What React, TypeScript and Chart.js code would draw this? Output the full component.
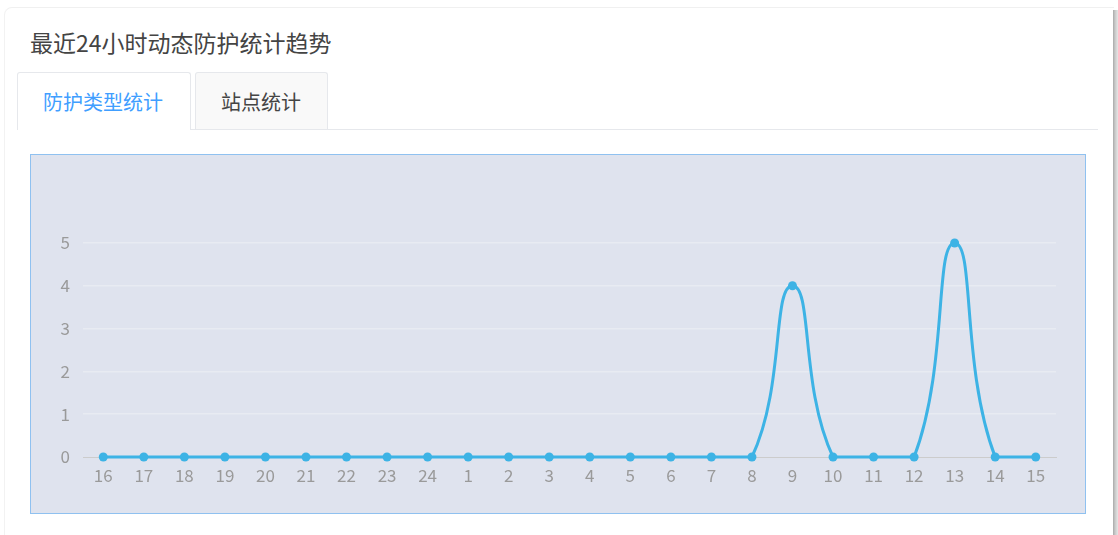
import React, { useEffect, useRef } from "react";
import { Chart, registerables } from "chart.js";

Chart.register(...registerables);

// Hours of the last 24h window
const hours = [
  "16", "17", "18", "19", "20", "21", "22", "23", "24",
  "1", "2", "3", "4", "5", "6", "7", "8", "9", "10", "11", "12", "13", "14", "15",
];
// Protection events per hour
const protectCounts = [0, 0, 0, 0, 0, 0, 0, 0, 0, 0, 0, 0, 0, 0, 0, 0, 0, 4, 0, 0, 0, 5, 0, 0];
const yTicks = [0, 1, 2, 3, 4, 5];

const FONT = '"Noto Sans CJK SC", "Noto Sans", sans-serif';

function TrendChart() {
  const ref = useRef<HTMLCanvasElement | null>(null);

  useEffect(() => {
    if (!ref.current) return;
    const chart = new Chart(ref.current, {
      type: "line",
      data: {
        labels: hours,
        datasets: [
          {
            data: protectCounts,
            borderColor: "#3db3e5",
            backgroundColor: "#3db3e5",
            borderWidth: 3,
            pointRadius: 4.5,
            pointBackgroundColor: "#3db3e5",
            pointBorderWidth: 0,
            // smooth curve; control points are kept inside the plot so flat runs stay flat
            tension: 0.5,
            fill: false,
            clip: false,
          },
        ],
      },
      options: {
        animation: false,
        responsive: false,
        maintainAspectRatio: false,
        layout: { padding: { top: 88, right: 29, left: 0, bottom: 0 } },
        elements: { line: { capBezierPoints: true } },
        plugins: { legend: { display: false }, tooltip: { enabled: false } },
        scales: {
          x: {
            offset: true,
            grid: { display: false, drawTicks: false },
            border: { display: true, color: "#cccccc", width: 1 },
            ticks: {
              color: "#9a9a9a",
              font: { family: FONT, size: 17 },
              padding: 8,
              autoSkip: false,
              maxRotation: 0,
            },
            afterFit: (s: any) => {
              s.height = 56;
            },
          },
          y: {
            min: 0,
            max: 5,
            afterBuildTicks: (s: any) => {
              s.ticks = yTicks.map((v) => ({ value: v }));
            },
            grid: {
              drawTicks: false,
              color: (ctx: any) => (ctx.tick && ctx.tick.value === 0 ? "rgba(0,0,0,0)" : "#e8ebf2"),
              lineWidth: 1.5,
            },
            border: { display: false },
            ticks: {
              color: "#9a9a9a",
              font: { family: FONT, size: 17 },
              padding: 13,
            },
            afterFit: (s: any) => {
              s.width = 52;
            },
          },
        },
      },
    });
    return () => chart.destroy();
  }, []);

  return <canvas ref={ref} width={1054} height={358} style={{ display: "block", width: 1054, height: 358 }} />;
}

export default function App() {
  useEffect(() => {
    document.body.style.margin = "0";
  }, []);

  return (
    <div
      style={{
        position: "fixed",
        left: 0,
        top: 0,
        width: 1118,
        height: 535,
        background: "#ffffff",
        overflow: "hidden",
        fontFamily: FONT,
      }}
    >
      {/* card outline */}
      <div
        style={{
          position: "absolute",
          left: 4,
          top: 7,
          width: 1109,
          height: 600,
          borderTop: "1px solid #f0f0f0",
          borderLeft: "1px solid #f2f2f2",
          borderTopLeftRadius: 8,
        }}
      />
      {/* right edge shade */}
      <div
        style={{
          position: "absolute",
          left: 1113,
          top: 10,
          width: 5,
          height: 525,
          background: "linear-gradient(to right, #a9a9a9, #c8c8c8 40%, #e6e6e6)",
        }}
      />
      {/* title */}
      <div
        style={{
          position: "absolute",
          left: 30,
          top: 26,
          fontSize: 23,
          lineHeight: "32px",
          color: "#444444",
          whiteSpace: "nowrap",
        }}
      >
        最近24小时动态防护统计趋势
      </div>
      {/* tab bar bottom line */}
      <div style={{ position: "absolute", left: 17, top: 129, width: 1081, height: 1, background: "#e6e8ec" }} />
      {/* active tab */}
      <div
        style={{
          position: "absolute",
          left: 17,
          top: 72,
          width: 174,
          height: 58,
          background: "#ffffff",
          border: "1px solid #e6e8ec",
          borderBottom: "none",
          borderRadius: "3px 3px 0 0",
          boxSizing: "border-box",
          color: "#409eff",
          fontSize: 20,
          lineHeight: "58px",
          paddingLeft: 25,
          whiteSpace: "nowrap",
        }}
      >
        防护类型统计
      </div>
      {/* inactive tab */}
      <div
        style={{
          position: "absolute",
          left: 195,
          top: 72,
          width: 133,
          height: 57,
          background: "#f9f9f9",
          border: "1px solid #e6e8ec",
          borderBottom: "none",
          borderRadius: "3px 3px 0 0",
          boxSizing: "border-box",
          color: "#444444",
          fontSize: 20,
          lineHeight: "57px",
          paddingLeft: 25,
          whiteSpace: "nowrap",
        }}
      >
        站点统计
      </div>
      {/* chart panel */}
      <div
        style={{
          position: "absolute",
          left: 30,
          top: 154,
          width: 1056,
          height: 360,
          background: "#dfe3ee",
          border: "1px solid #8fc1f0",
          boxSizing: "border-box",
        }}
      >
        <TrendChart />
      </div>
    </div>
  );
}
